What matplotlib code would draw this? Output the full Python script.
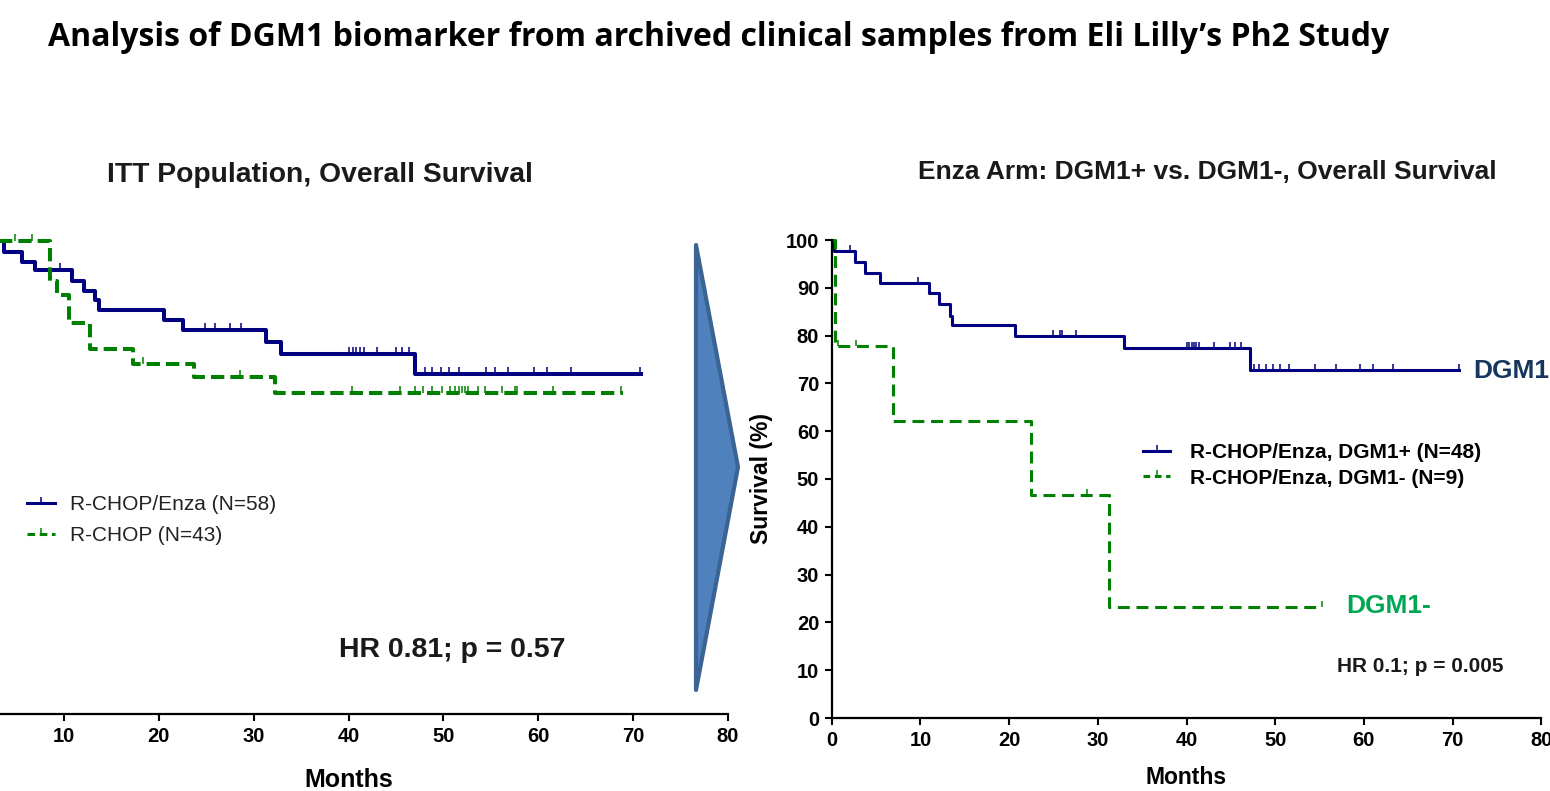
import numpy as np
import matplotlib
matplotlib.use("Agg")
import matplotlib.pyplot as plt
from matplotlib.path import Path
from matplotlib.patches import Polygon
from matplotlib.lines import Line2D

# ITT population (left panel)
itt_enza_t = [0, 3.7, 5.6, 7.0, 10.9, 12.1, 13.3, 13.7, 20.6, 22.6, 31.3, 32.9, 47.0, 70.8]
itt_enza_s = [100, 97.7, 95.6, 93.9, 91.5, 89.4, 87.5, 85.4, 83.4, 81.2, 78.7, 76.2, 71.9, 71.9]
itt_enza_cens = [9.6, 24.9, 25.9, 27.5, 28.7, 40.1, 40.5, 40.8, 41.2, 41.6, 43.0, 45.0, 45.6, 46.4,
                 48.1, 48.8, 49.7, 50.6, 51.6, 54.5, 55.4, 56.8, 59.5, 60.9, 63.4, 70.7]
itt_rchop_t = [0, 8.5, 9.3, 10.5, 12.8, 17.3, 23.7, 32.3, 68.9]
itt_rchop_s = [100, 91.5, 88.6, 82.6, 77.2, 74.1, 71.2, 67.9, 67.9]
itt_rchop_cens = [4.9, 6.6, 18.3, 28.6, 40.4, 45.4, 47.0, 47.9, 48.8, 49.9, 50.7, 51.2, 51.6,
                  52.0, 52.3, 52.6, 53.7, 54.4, 56.2, 57.5, 57.8, 61.6, 68.7]

# Enza arm by DGM1 status (right panel)
pos_t = [0, 0.3, 2.6, 3.8, 5.5, 11.0, 12.1, 13.3, 13.6, 20.7, 33.0, 47.2, 70.7]
pos_s = [100, 97.7, 95.5, 93.2, 91.0, 88.9, 86.7, 84.2, 82.2, 79.9, 77.4, 72.7, 72.7]
pos_cens = [2.1, 9.7, 24.9, 25.7, 26.0, 27.5, 40.1, 40.3, 40.6, 40.9, 41.1, 41.4, 43.1, 44.9,
            45.5, 46.2, 47.6, 48.2, 49.0, 49.7, 50.5, 51.6, 54.5, 56.9, 59.6, 61.0, 63.3, 70.7]
neg_t = [0, 0.4, 6.95, 22.5, 31.3, 55.3]
neg_s = [100, 77.8, 62.2, 46.7, 23.3, 23.3]
neg_cens = [0.7, 2.7, 28.8, 55.3]

NAVY = "#000080"
GREEN = "#008000"
arial = ["Liberation Sans", "DejaVu Sans"]

tick = Path([(0, 0), (0, 1)], [Path.MOVETO, Path.LINETO])


def km(ax, t, s, cens, color, lw, dashes=None, ms=10):
    line, = ax.step(t, s, where="post", color=color, lw=lw, clip_on=False)
    if dashes:
        line.set_dashes(dashes)
    t = np.array(t)
    s = np.array(s)
    idx = np.searchsorted(t, cens, side="right") - 1
    ax.plot(cens, s[idx], ls="none", marker=tick, ms=ms, mew=1.1, color=color, clip_on=False)


def style_axis(ax):
    for sp in ["top", "right"]:
        ax.spines[sp].set_visible(False)
    for sp in ["left", "bottom"]:
        ax.spines[sp].set_linewidth(1.6)
    ax.set_xlim(0, 80)
    ax.set_ylim(0, 100)
    ax.set_xticks(range(0, 81, 10))
    ax.set_yticks(range(0, 101, 10))
    ax.tick_params(width=1.5, length=5, labelsize=14.5, pad=4)
    for lab in ax.get_xticklabels() + ax.get_yticklabels():
        lab.set_family(arial)
        lab.set_fontweight("bold")


W, H = 1550, 791
fig = plt.figure(figsize=(W / 100, H / 100), dpi=100)

# left panel (y axis falls off the slide edge)
axL = fig.add_axes([-31 / W, (H - 714) / H, 759 / W, 473 / H])
km(axL, itt_enza_t, itt_enza_s, itt_enza_cens, NAVY, 2.9)
km(axL, itt_rchop_t, itt_rchop_s, itt_rchop_cens, GREEN, 2.9, dashes=(3.3, 1.5))
style_axis(axL)
axL.tick_params(axis="y", labelleft=False)
axL.set_xticklabels([""] + [str(v) for v in range(10, 81, 10)])
axL.set_xlabel("Months", fontsize=18, fontweight="bold", family=arial)
axL.xaxis.set_label_coords(0.5, -0.115)

hL = [Line2D([], [], color=NAVY, lw=2.2, marker=tick, ms=9, mew=1.1),
      Line2D([], [], color=GREEN, lw=2.2, dashes=(2.5, 1.5), marker=tick, ms=9, mew=1.1)]
legL = axL.legend(hL, ["R-CHOP/Enza (N=58)", "R-CHOP (N=43)"], loc="upper left",
                  bbox_to_anchor=(27 / W, 1 - 495 / H), bbox_transform=fig.transFigure,
                  frameon=False, prop={"family": arial, "size": 15}, handlelength=1.35,
                  handletextpad=0.7, borderpad=0, borderaxespad=0, labelspacing=0.58,
                  numpoints=1)
for txt in legL.get_texts():
    txt.set_color("#222222")

axL.text((452 + 31) / 759, (714 - 650) / 473, "HR 0.81; p = 0.57", transform=axL.transAxes,
         fontsize=20.5, fontweight="bold", family=arial, ha="center", va="center", color="#1a1a1a")

# right panel
axR = fig.add_axes([831.7 / W, (H - 718) / H, 709.6 / W, 478 / H])
km(axR, pos_t, pos_s, pos_cens, NAVY, 2.2, ms=9)
km(axR, neg_t, neg_s, neg_cens, GREEN, 2.2, dashes=(3.9, 2.2), ms=9)
style_axis(axR)
axR.set_xlabel("Months", fontsize=16.5, fontweight="bold", family=arial)
axR.xaxis.set_label_coords(0.5, -0.10)
axR.set_ylabel("Survival (%)", fontsize=16.5, fontweight="bold", family=arial)
axR.yaxis.set_label_coords(-0.083, 0.5)

hR = [Line2D([], [], color=NAVY, lw=2.2, marker=tick, ms=9, mew=1.1),
      Line2D([], [], color=GREEN, lw=2.2, dashes=(2.2, 1.5), marker=tick, ms=9, mew=1.1)]
axR.legend(hR, ["R-CHOP/Enza, DGM1+ (N=48)", "R-CHOP/Enza, DGM1- (N=9)"], loc="upper left",
           bbox_to_anchor=(1143 / W, 1 - 443 / H), bbox_transform=fig.transFigure,
           frameon=False, prop={"family": arial, "size": 15, "weight": "bold"},
           handlelength=1.3, handletextpad=0.95, borderpad=0, borderaxespad=0,
           labelspacing=0.32, numpoints=1)

axR.text((1420 - 831.7) / 709.6, (718 - 666) / 478, "HR 0.1; p = 0.005", transform=axR.transAxes,
         fontsize=15, fontweight="bold", family=arial, ha="center", va="center", color="#1a1a1a")

fig.text(1346 / W, 1 - 606 / H, "DGM1-", fontsize=19, fontweight="bold", family=arial,
         color="#00a651", ha="left", va="center")
fig.text(1473 / W, 1 - 371 / H, "DGM1+", fontsize=19, fontweight="bold", family=arial,
         color="#17365d", ha="left", va="center")

# titles
fig.text(48 / W, 1 - 38 / H, "Analysis of DGM1 biomarker from archived clinical samples from Eli Lilly\u2019s Ph2 Study",
         fontsize=23, fontweight="bold", family=["Open Sans", "DejaVu Sans"], ha="left", va="center")
fig.text(320 / W, 1 - 175 / H, "ITT Population, Overall Survival", fontsize=20.3, fontweight="bold",
         family=arial, ha="center", va="center", color="#1a1a1a")
fig.text(1207 / W, 1 - 172 / H, "Enza Arm: DGM1+ vs. DGM1-, Overall Survival", fontsize=19,
         fontweight="bold", family=arial, ha="center", va="center", color="#1a1a1a")

# chevron arrow between panels
arrow = Polygon([(696 / W, 1 - 245 / H), (738 / W, 1 - 467 / H), (696 / W, 1 - 690 / H)],
                closed=True, transform=fig.transFigure, facecolor="#4f81bd",
                edgecolor="#3b6494", lw=3, joinstyle="round")
fig.patches.append(arrow)

fig.savefig("out.png", dpi=100)
